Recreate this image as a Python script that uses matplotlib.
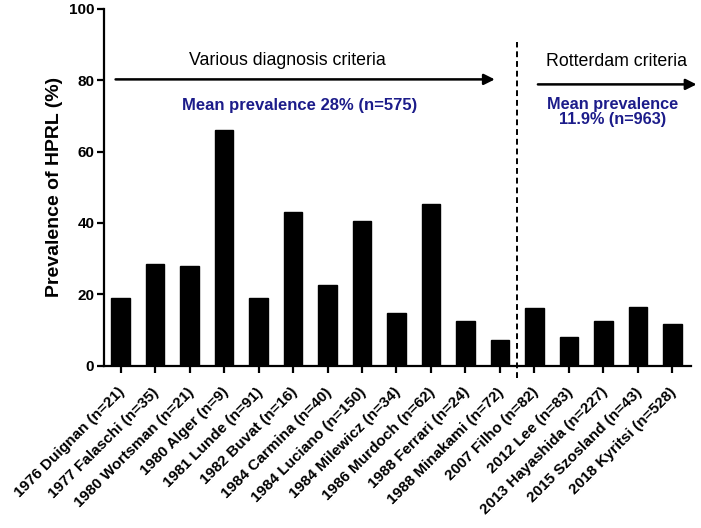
import matplotlib
matplotlib.use("Agg")
import matplotlib.pyplot as plt
import matplotlib.transforms as mtransforms

plt.rcParams['font.family'] = ['Liberation Sans', 'DejaVu Sans']

studies = ["1976 Duignan (n=21)", "1977 Falaschi (n=35)", "1980 Wortsman (n=21)",
           "1980 Alger (n=9)", "1981 Lunde (n=91)", "1982 Buvat (n=16)",
           "1984 Carmina (n=40)", "1984 Luciano (n=150)", "1984 Milewicz (n=34)",
           "1986 Murdoch (n=62)", "1988 Ferrari (n=24)", "1988 Minakami (n=72)",
           "2007 Filho (n=82)", "2012 Lee (n=83)", "2013 Hayashida (n=227)",
           "2015 Szosland (n=43)", "2018 Kyritsi (n=528)"]
prevalence = [19.0, 28.5, 28.0, 66.1, 19.0, 43.0, 22.6, 40.6, 14.8, 45.2,
              12.5, 7.1, 16.2, 8.1, 12.4, 16.4, 11.7]
yticks = [0, 20, 40, 60, 80, 100]

fig = plt.figure(figsize=(7.01, 5.28), dpi=100)
ax = fig.add_axes([0.1484, 0.3074, 0.8369, 0.6761])

x = list(range(len(studies)))
ax.bar(x, prevalence, width=0.53, color='black', edgecolor='black')

ax.set_xlim(-0.48, 16.53)
ax.set_ylim(0, 100)
ax.set_yticks(yticks)
ax.set_yticklabels([str(v) for v in yticks], fontsize=11, fontweight='bold')
ax.set_xticks(x)
ax.set_xticklabels(studies, rotation=45, ha='right', va='top',
                   rotation_mode='anchor', fontsize=11, fontweight='bold')
ax.set_ylabel("Prevalence of HPRL (%)", fontsize=14, fontweight='bold', labelpad=4)

for s in ['top', 'right']:
    ax.spines[s].set_visible(False)
for s in ['left', 'bottom']:
    ax.spines[s].set_linewidth(1.6)
ax.tick_params(axis='both', length=5, width=1.6, direction='out')
ax.tick_params(axis='x', pad=9)
ax.tick_params(axis='y', pad=2)

offset = mtransforms.ScaledTranslation(-3 / 100, 0, fig.dpi_scale_trans)
for lab in ax.get_xticklabels():
    lab.set_transform(lab.get_transform() + offset)

# divider
ax.plot([11.5, 11.5], [-3.4, 90.8], ls=(0, (3, 2)), color='black', lw=1.4, clip_on=False)

# arrows
ax.annotate("", xy=(10.85, 80.2), xytext=(-0.145, 80.2),
            arrowprops=dict(arrowstyle='-|>', lw=1.8, color='black', mutation_scale=16,
                            shrinkA=0, shrinkB=0))
ax.annotate("", xy=(16.70, 78.8), xytext=(12.1, 78.8),
            arrowprops=dict(arrowstyle='-|>', lw=1.8, color='black', mutation_scale=16,
                            shrinkA=0, shrinkB=0),
            annotation_clip=False)

ax.text(4.83, 85.6, "Various diagnosis criteria", ha='center', va='center', fontsize=12.8)
ax.text(14.38, 85.2, "Rotterdam criteria", ha='center', va='center', fontsize=12.8)
navy = '#1c1c8a'
ax.text(5.19, 73.0, "Mean prevalence 28% (n=575)", ha='center', va='center',
        fontsize=12, fontweight='bold', color=navy)
ax.text(14.27, 71.1, "Mean prevalence\n11.9% (n=963)", ha='center', va='center',
        fontsize=11.7, fontweight='bold', color=navy, linespacing=1.05)

fig.savefig("out.png", dpi=100)
